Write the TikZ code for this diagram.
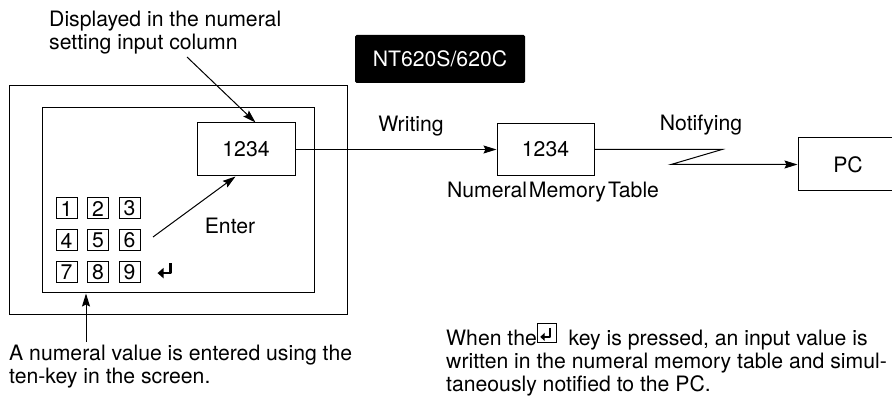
\documentclass[tikz,border=0pt]{standalone}
\usepackage{fontspec}
\setmainfont{TeX Gyre Heros}
\usetikzlibrary{arrows.meta,positioning,calc}

\tikzset{
  box/.style={draw, line width=1pt, inner sep=0pt},
  arr/.style={line width=1pt, -{Stealth[length=13pt,width=8pt,inset=2pt]}},
  lbl/.style={inner sep=0pt, align=left},
  keycap/.style={box, minimum width=21pt, minimum height=21pt},
}

% return symbol, bare and boxed
\newcommand{\retglyph}{\tikz[x=1pt,y=1pt,baseline=0pt]{\draw[line width=2.4pt, line join=round, -{Triangle[length=6pt,width=10pt]}] (13,13) -- (13,3) -- (0,3);}}
\newcommand{\retkey}{\tikz[x=1pt,y=1pt,baseline=-3pt]{\draw[line width=0.8pt] (0,0) rectangle (19,19); \draw[line width=1.8pt, line join=round, -{Triangle[length=4.5pt,width=8pt]}] (13,15) -- (13,6) -- (3,6);}}

\begin{document}
\begin{tikzpicture}[x=1pt,y=-1pt, font=\fontsize{21.2}{23}\selectfont]
  \clip (0,0) rectangle (892,398);

  % terminal screen
  \node[box, minimum width=338pt, minimum height=228pt] (outer) at (178,200) {};
  \node[box, minimum width=272pt, minimum height=185pt] (inner) at (178,200.5) {};
  \node[box, minimum width=98pt, minimum height=53pt] (disp) at (246,149.5) {1234};

  % ten-key
  \foreach \n [count=\i from 0] in {1,...,9}{
    \pgfmathtruncatemacro\col{mod(\i,3)}
    \pgfmathtruncatemacro\row{div(\i,3)}
    \node[keycap] (k\n) at (66.5+31.5*\col, 208.5+32*\row) {\n};
  }
  \node[inner sep=0pt] (ret) at (164,270) {\retglyph};

  \node (enter) at (230,226) {Enter};
  \coordinate (entfrom) at (153,237);
  \draw[arr] (entfrom) -- ([xshift=39pt]disp.south west);

  % callouts
  \node[lbl, anchor=west] (show) at (49,33) {Displayed in the numeral\\setting input column};
  \coordinate (showfrom) at (187,57);
  \draw[arr] (showfrom) -- ([xshift=59pt]disp.north west);

  \node[lbl, anchor=west] (entered) at (9,366.5) {A numeral value is entered using the\\ten-key in the screen.};
  \coordinate (keyfrom) at (86,342);
  \draw[arr] (keyfrom) -- (keyfrom |- inner.south);

  \node[fill=black, text=white, minimum width=170pt, minimum height=48pt, rounded corners=1.5pt] (model) at (440,59) {NT620S/620C};

  % memory table and PC
  \node[box, minimum width=97pt, minimum height=52pt] (mem) at (545.5,149.5) {1234};
  \draw[arr] (disp.east) -- (mem.west);
  \node (writing) at (411,126) {Writing};
  \node (memname) at (553,192) {Numeral\hspace{2pt}Memory\hspace{2pt}Table};

  \node[box, minimum width=100pt, minimum height=53pt] (pc) at (848,164.5) {PC};
  \coordinate (zz1) at (722,149.5);
  \coordinate (zz2) at (671,164.5);
  \draw[arr] (mem.east) -- (zz1) -- (zz2) -- (pc.west);
  \node (notify) at (701,125) {Notifying};

  \node[lbl, anchor=west] (note) at (446,360) {When the\retkey\hspace{12pt}key is pressed, an input value is\\written in the numeral memory table and simul-\\taneously notified to the PC.};
\end{tikzpicture}
\end{document}
